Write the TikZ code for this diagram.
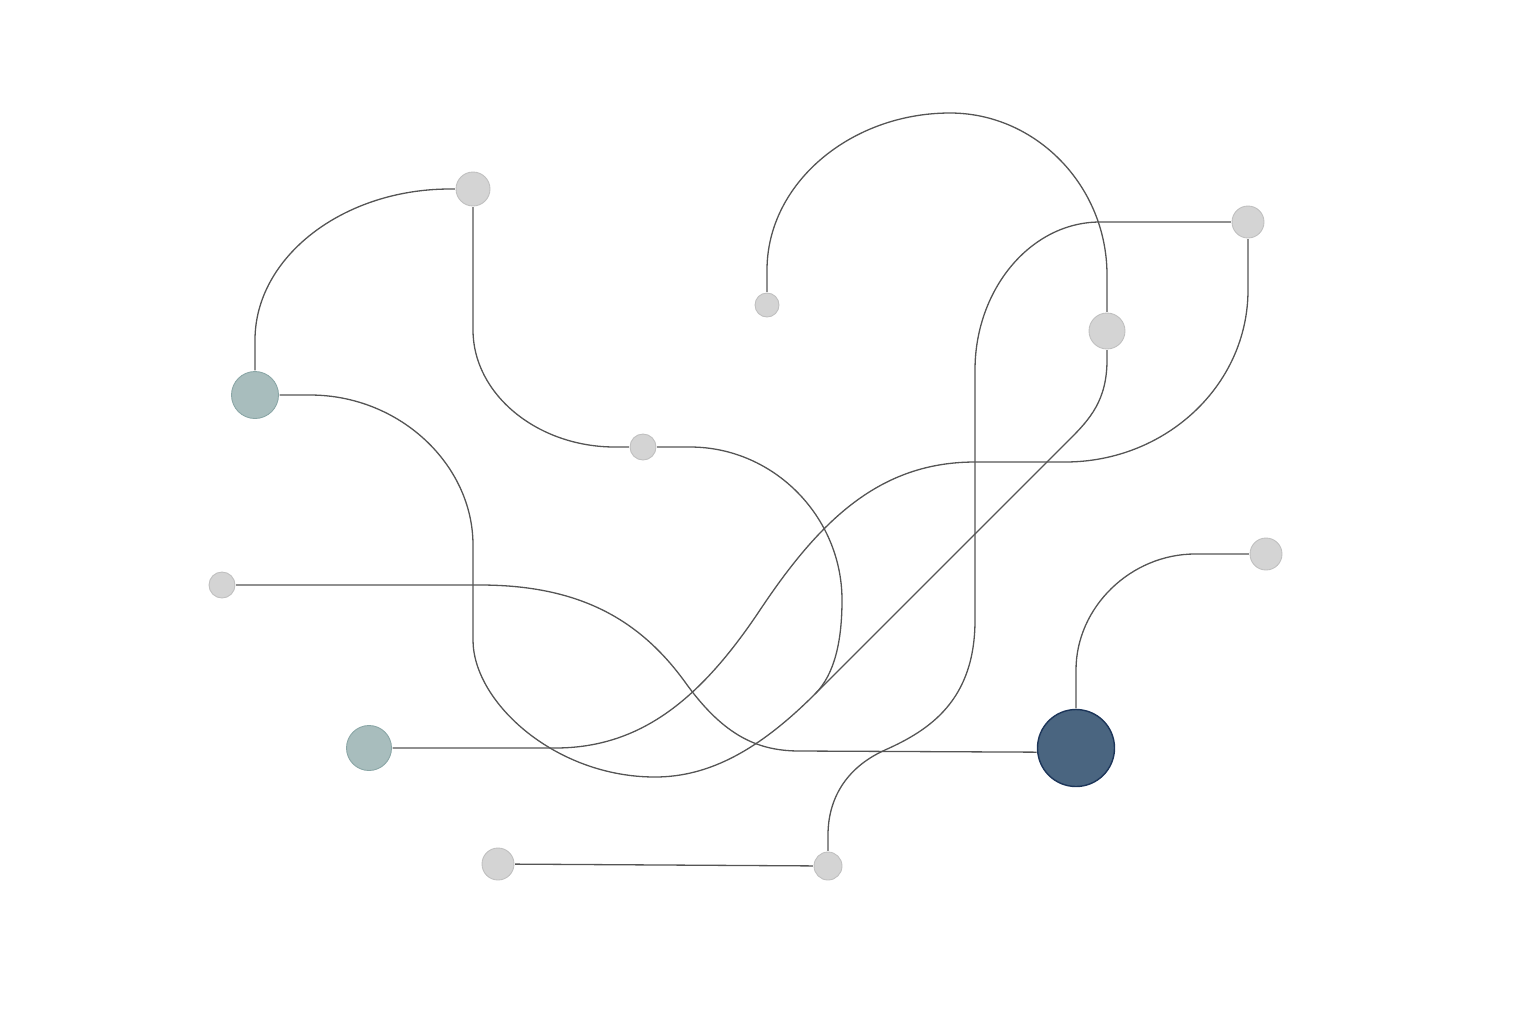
\documentclass[tikz,border=0pt]{standalone}

\definecolor{dotgray}{HTML}{D4D4D4}
\definecolor{dotedge}{HTML}{C0C0C0}
\definecolor{sage}{HTML}{A8BDBD}
\definecolor{sageedge}{HTML}{8AA6A6}
\definecolor{navy}{HTML}{4A6580}
\definecolor{navyedge}{HTML}{1C3559}
\definecolor{wirecol}{HTML}{555555}

\begin{document}
\begin{tikzpicture}[x=0.5pt,y=-0.5pt,
  wire/.style={draw=wirecol,line width=0.65pt},
  dot/.style={circle,inner sep=0pt,outer sep=0.6pt,line width=0.45pt,minimum size=#1},
  greydot/.style={dot=#1,draw=dotedge,fill=dotgray},
  sagedot/.style={dot=#1,draw=sageedge,fill=sage},
  navydot/.style={dot=#1,draw=navyedge,fill=navy,line width=0.7pt}]
\useasboundingbox (0,0) rectangle (1536,1024);

\node[greydot=17pt] (A) at (473,189) {};
\node[sagedot=23.5pt] (B) at (255,395) {};
\node[greydot=12pt] (C) at (767,305) {};
\node[greydot=18pt] (D) at (1107,331) {};
\node[greydot=16pt] (E) at (1248,222) {};
\node[greydot=13pt] (F) at (643,447) {};
\node[greydot=13pt] (G) at (222,585) {};
\node[greydot=16pt] (H) at (1266,554) {};
\node[sagedot=22.5pt] (I) at (369,748) {};
\node[navydot=38.5pt] (J) at (1076,748) {};
\node[greydot=16pt] (K) at (498,864) {};
\node[greydot=14pt] (L) at (828,866) {};

\coordinate (m) at (815,694);

\draw[wire] (B.north) -- (255,340) .. controls (255,257) and (343,189) .. (450,189) -- (A.west);
\draw[wire] (A.south) -- (473,330) .. controls (473,394) and (537,447) .. (615,447) -- (F.west);
\draw[wire] (F.east) -- (690,447) .. controls (774,447) and (842,517) .. (842,600)
  .. controls (842,640) and (835,674) .. (m)
  .. controls (760,749) and (710,777) .. (655,777)
  .. controls (555,777) and (473,702) .. (473,640) -- (473,545)
  .. controls (473,465) and (400,395) .. (310,395) -- (B.east);
\draw[wire] (D.south) -- (1107,360) .. controls (1107,400) and (1090,419) .. (1070,439) -- (m);
\draw[wire] (G.east) -- (480,585) .. controls (580,585) and (640,620) .. (685,682)
  .. controls (725,738) and (760,751) .. (800,751) -- (J.186);
\draw[wire] (I.east) -- (555,748) .. controls (640,748) and (700,700) .. (760,610)
  .. controls (820,520) and (880,462) .. (975,462) -- (1065,462)
  .. controls (1166,462) and (1248,385) .. (1248,290) -- (E.south);
\draw[wire] (E.west) -- (1100,222) .. controls (1031,222) and (975,289) .. (975,370) -- (975,620)
  .. controls (975,700) and (930,730) .. (885,750)
  .. controls (845,768) and (828,800) .. (828,835) -- (L.north);
\draw[wire] (J.north) -- (1076,670) .. controls (1076,607) and (1131,554) .. (1195,554) -- (H.west);
\draw[wire] (C.north) -- (767,270) .. controls (767,183) and (851,113) .. (950,113)
  .. controls (1036,113) and (1107,186) .. (1107,275) -- (D.north);
\draw[wire] (K) -- (L);
\end{tikzpicture}
\end{document}
